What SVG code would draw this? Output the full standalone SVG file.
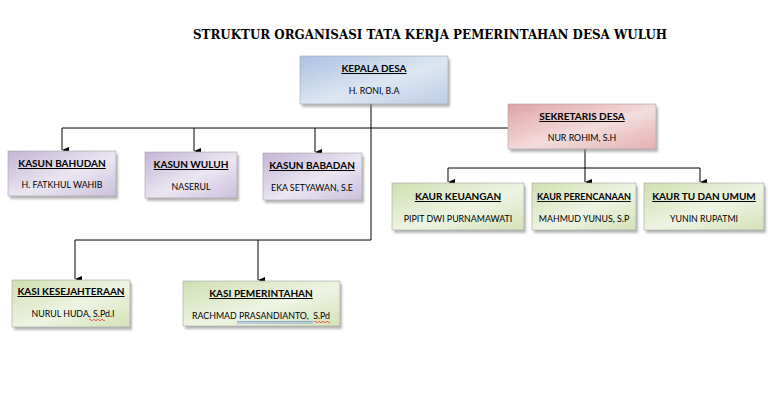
<svg xmlns="http://www.w3.org/2000/svg" width="771" height="411" viewBox="0 0 771 411">
<defs>
<linearGradient id="gBlue" x1="0" y1="0" x2="1" y2="1">
<stop offset="0" stop-color="#a9c1e0"/><stop offset="0.55" stop-color="#dce6f3"/><stop offset="1" stop-color="#bccde6"/>
</linearGradient>
<linearGradient id="gPink" x1="0" y1="0" x2="1" y2="1">
<stop offset="0" stop-color="#dfa3a3"/><stop offset="0.55" stop-color="#f3dcdc"/><stop offset="1" stop-color="#e3afaf"/>
</linearGradient>
<linearGradient id="gPurple" x1="0" y1="0" x2="1" y2="1">
<stop offset="0" stop-color="#c2b4d6"/><stop offset="0.55" stop-color="#ebe6f2"/><stop offset="1" stop-color="#cbbfdc"/>
</linearGradient>
<linearGradient id="gGreen" x1="0" y1="0" x2="1" y2="1">
<stop offset="0" stop-color="#cfdfb0"/><stop offset="0.55" stop-color="#eef4e3"/><stop offset="1" stop-color="#d3e2b6"/>
</linearGradient>
<filter id="sh" x="-10%" y="-10%" width="130%" height="140%">
<feGaussianBlur stdDeviation="1.2"/>
</filter>
<marker id="arr" viewBox="0 0 6 7" refX="3" refY="7" markerWidth="6" markerHeight="7" markerUnits="userSpaceOnUse" orient="auto-start-reverse">
<path d="M0,0 L6,0 L3,7 Z" fill="#000"/>
</marker>
</defs>
<style>
.box{stroke:#a6a6a6;stroke-width:0.6}
.shadow{fill:#7f7f7f;opacity:0.55;filter:url(#sh)}
.t{font-family:Lato,"Open Sans",sans-serif;font-weight:bold;font-size:10px;text-anchor:middle;text-decoration:underline;fill:#000}
.n{font-family:Lato,"Open Sans",sans-serif;font-size:8.8px;text-anchor:middle;fill:#000}
.title{font-family:"DejaVu Serif","Liberation Serif",serif;font-weight:bold;font-size:12.5px;fill:#000}
.c{fill:none;stroke:#000;stroke-width:1}
.a{fill:none;stroke:#000;stroke-width:1;marker-end:url(#arr)}
</style>
<rect width="771" height="411" fill="#fff"/>
<text class="title" x="193" y="39" textLength="474" lengthAdjust="spacingAndGlyphs">STRUKTUR ORGANISASI TATA KERJA PEMERINTAHAN DESA WULUH</text>

<g id="connectors">
<path class="c" d="M371,104 V240"/>
<path class="c" d="M62,128 H508"/>
<path class="a" d="M62,128 V150"/>
<path class="a" d="M194,128 V151"/>
<path class="a" d="M315,128 V152"/>
<path class="c" d="M75,240 H371"/>
<path class="a" d="M75,240 V279"/>
<path class="a" d="M258,240 V280"/>
<path class="c" d="M585,149 V168"/>
<path class="c" d="M448,168 H700"/>
<path class="a" d="M448,168 V182"/>
<path class="a" d="M585,168 V182"/>
<path class="a" d="M700,168 V182"/>
</g>

<g id="kepala-desa">
<rect class="shadow" x="302" y="59" width="148" height="48"/>
<rect class="box" x="300" y="56" width="148" height="48" fill="url(#gBlue)"/>
<text class="t" x="374" y="72">KEPALA DESA</text>
<text class="n" x="374" y="94">H. RONI, B.A</text>
</g>

<g id="sekretaris-desa">
<rect class="shadow" x="510" y="107" width="148" height="45"/>
<rect class="box" x="508" y="104" width="148" height="45" fill="url(#gPink)"/>
<text class="t" x="582" y="120">SEKRETARIS DESA</text>
<text class="n" x="582" y="141">NUR ROHIM, S.H</text>
</g>

<g id="kasun-bahudan">
<rect class="shadow" x="10" y="154" width="108" height="45"/>
<rect class="box" x="8" y="151" width="108" height="45" fill="url(#gPurple)"/>
<text class="t" x="62" y="167">KASUN BAHUDAN</text>
<text class="n" x="62" y="188">H. FATKHUL WAHIB</text>
</g>

<g id="kasun-wuluh">
<rect class="shadow" x="147" y="155" width="92" height="46"/>
<rect class="box" x="145" y="152" width="92" height="46" fill="url(#gPurple)"/>
<text class="t" x="191" y="168">KASUN WULUH</text>
<text class="n" x="191" y="190">NASERUL</text>
</g>

<g id="kasun-babadan">
<rect class="shadow" x="265" y="156" width="99" height="47"/>
<rect class="box" x="263" y="153" width="99" height="47" fill="url(#gPurple)"/>
<text class="t" x="312" y="169">KASUN BABADAN</text>
<text class="n" x="312" y="191">EKA SETYAWAN, S.E</text>
</g>

<g id="kaur-keuangan">
<rect class="shadow" x="394" y="186" width="132" height="47"/>
<rect class="box" x="392" y="183" width="132" height="47" fill="url(#gGreen)"/>
<text class="t" x="458" y="200">KAUR KEUANGAN</text>
<text class="n" x="458" y="222">PIPIT DWI PURNAMAWATI</text>
</g>

<g id="kaur-perencanaan">
<rect class="shadow" x="534" y="186" width="104" height="47"/>
<rect class="box" x="532" y="183" width="104" height="47" fill="url(#gGreen)"/>
<text class="t" x="584" y="200" style="font-size:9px">KAUR PERENCANAAN</text>
<text class="n" x="584" y="222">MAHMUD YUNUS, S.P</text>
</g>

<g id="kaur-tu-dan-umum">
<rect class="shadow" x="646" y="186" width="120" height="47"/>
<rect class="box" x="644" y="183" width="120" height="47" fill="url(#gGreen)"/>
<text class="t" x="704" y="200">KAUR TU DAN UMUM</text>
<text class="n" x="704" y="222">YUNIN RUPATMI</text>
</g>

<g id="kasi-kesejahteraan">
<rect class="shadow" x="14" y="283" width="118" height="47"/>
<rect class="box" x="12" y="280" width="118" height="47" fill="url(#gGreen)"/>
<text class="t" x="71" y="295">KASI KESEJAHTERAAN</text>
<text class="n" x="73" y="317">NURUL HUDA, S.Pd.I</text>
<path d="M89,320 q1,-1.5 2,0 t2,0 t2,0 t2,0 t2,0 t2,0 t2,0 t2,0" fill="none" stroke="#e00" stroke-width="0.6"/>
</g>

<g id="kasi-pemerintahan">
<rect class="shadow" x="185" y="284" width="157" height="45"/>
<rect class="box" x="183" y="281" width="157" height="45" fill="url(#gGreen)"/>
<text class="t" x="261" y="297">KASI PEMERINTAHAN</text>
<text class="n" x="261" y="319" xml:space="preserve">RACHMAD PRASANDIANTO,  S.Pd</text>
<path d="M237,321.5 H313 M237,323 H313" fill="none" stroke="#3a6fd8" stroke-width="0.5"/>
<path d="M314,322 q1,-1.5 2,0 t2,0 t2,0 t2,0 t2,0 t2,0 t2,0 t2,0" fill="none" stroke="#e00" stroke-width="0.6"/>
</g>
</svg>
